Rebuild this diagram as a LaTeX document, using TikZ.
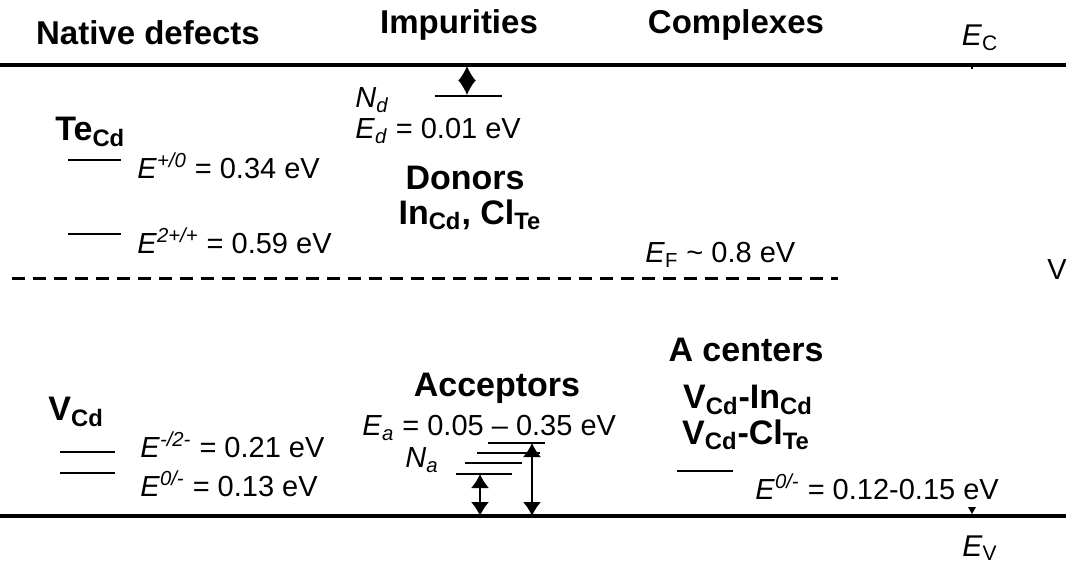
\documentclass[tikz,border=0pt]{standalone}
\usepackage{fontspec}
\setmainfont{Liberation Sans}
\usetikzlibrary{arrows.meta}
\begin{document}
\begin{tikzpicture}[x=0.5pt,y=-0.5pt,
 band/.style={line width=2pt},
 lvl/.style={line width=1.4pt},
 hdr/.style={font=\fontsize{16.5}{19}\selectfont\bfseries, inner sep=0},
 bld/.style={font=\fontsize{17}{20}\selectfont\bfseries, inner sep=0},
 lbl/.style={font=\fontsize{14.5}{17}\selectfont, inner sep=0, anchor=west},
 edge/.style={font=\fontsize{15}{17}\selectfont, inner sep=0},
 arr/.style={line width=0.8pt, {Latex[length=7pt,width=9pt]}-{Latex[length=7pt,width=9pt]}}
]
\useasboundingbox (0,0) rectangle (1066,567);
% headers
\node[hdr] (h1) at (148,33) {Native defects};
\node[hdr] (h2) at (459,25) {Impurities};
\node[hdr] (h3) at (736,25) {Complexes};
\node[edge] (ec) at (980,38) {\textit{E}\textsubscript{C}};
\node[edge] (ev) at (980,548) {\textit{E}\textsubscript{V}};
% bands
\coordinate (cl) at (0,65); \coordinate (cr) at (1066,65);
\coordinate (vl) at (0,516); \coordinate (vr) at (1066,516);
\draw[band] (cl) -- (cr);
\draw[band] (vl) -- (vr);
\coordinate (ct1) at (972,65); \coordinate (ct2) at (972,69);
\draw[line width=0.8pt] (ct1) -- (ct2);
\fill (968,507) -- (976,507) -- (972,514) -- cycle;
% Fermi level
\coordinate (fl) at (12,278); \coordinate (fr) at (838,278);
\draw[line width=1.5pt, dash pattern=on 6.5pt off 4pt] (fl) -- (fr);
\node[lbl] (ef) at (645,255) {\textit{E}\textsubscript{F} \textasciitilde{} 0.8 eV};
\node[lbl] (vcut) at (1047,270) {V};
% Te_Cd
\node[bld, anchor=west] (te) at (55,132) {Te\textsubscript{Cd}};
\coordinate (t1a) at (68,160); \coordinate (t1b) at (121,160);
\coordinate (t2a) at (68,234); \coordinate (t2b) at (121,234);
\draw[lvl] (t1a) -- (t1b);
\draw[lvl] (t2a) -- (t2b);
\node[lbl] (te1) at (137,166) {\textit{E}\textsuperscript{\textit{+/0}} = 0.34 eV};
\node[lbl] (te2) at (137,241) {\textit{E}\textsuperscript{\textit{2+/+}} = 0.59 eV};
% donors
\node[lbl] (nd) at (355,100) {\textit{N}\textsubscript{\textit{d}}};
\coordinate (nda) at (435,96); \coordinate (ndb) at (502,96);
\draw[lvl] (nda) -- (ndb);
\coordinate (dtop) at (467,66); \coordinate (dbot) at (467,95);
\draw[line width=0.8pt, {Latex[length=7.5pt,width=9pt]}-{Latex[length=7.5pt,width=9pt]}] (dbot) -- (dtop);
\node[lbl] (ed) at (355,131) {\textit{E}\textsubscript{\textit{d}} = 0.01 eV};
\node[bld] (don) at (465,178) {Donors};
\node[bld] (dsp) at (470,215) {In\textsubscript{Cd}, Cl\textsubscript{Te}};
% V_Cd
\node[bld, anchor=west] (vcd) at (48,412) {V\textsubscript{Cd}};
\coordinate (v1a) at (60,452); \coordinate (v1b) at (115,452);
\coordinate (v2a) at (60,473); \coordinate (v2b) at (115,473);
\draw[lvl] (v1a) -- (v1b);
\draw[lvl] (v2a) -- (v2b);
\node[lbl] (vl1) at (140,445) {\textit{E}\textsuperscript{\textit{-/2-}} = 0.21 eV};
\node[lbl] (vl2) at (140,484) {\textit{E}\textsuperscript{\textit{0/-}} = 0.13 eV};
% acceptors
\node[bld] (acc) at (497,388) {Acceptors};
\node[lbl] (ea) at (362,428) {\textit{E}\textsubscript{\textit{a}} = 0.05 – 0.35 eV};
\node[lbl] (na) at (405,460) {\textit{N}\textsubscript{\textit{a}}};
\coordinate (a1a) at (488,443); \coordinate (a1b) at (545,443);
\coordinate (a2a) at (477,453); \coordinate (a2b) at (540,453);
\coordinate (a3a) at (465,463); \coordinate (a3b) at (522,463);
\coordinate (a4a) at (456,474); \coordinate (a4b) at (512,474);
\draw[lvl] (a1a) -- (a1b);
\draw[lvl] (a2a) -- (a2b);
\draw[lvl] (a3a) -- (a3b);
\draw[lvl] (a4a) -- (a4b);
\coordinate (s1) at (480,474); \coordinate (s2) at (480,516);
\coordinate (l1) at (532,443); \coordinate (l2) at (532,516);
\draw[arr] (s1) -- (s2);
\draw[arr] (l1) -- (l2);
% complexes
\node[bld] (ac) at (746,350) {A centers};
\node[bld] (c1) at (748,400) {V\textsubscript{Cd}-In\textsubscript{Cd}};
\node[bld] (c2) at (746,435) {V\textsubscript{Cd}-Cl\textsubscript{Te}};
\coordinate (cxa) at (677,471); \coordinate (cxb) at (733,471);
\draw[lvl] (cxa) -- (cxb);
\node[lbl] (cxl) at (755,487) {\textit{E}\textsuperscript{\textit{0/-}} = 0.12-0.15 eV};
\end{tikzpicture}
\end{document}
